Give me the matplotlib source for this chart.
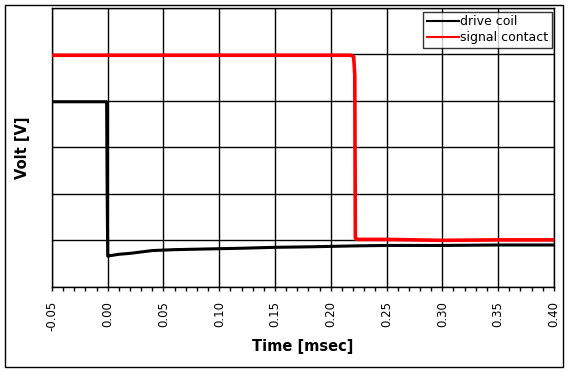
import numpy as np
import matplotlib
matplotlib.use('Agg')
import matplotlib.pyplot as plt
from matplotlib.patches import Rectangle

# Data (time in msec, volts in grid units)
drive_t = [-0.05, -0.001, -0.0005, 0.0, 0.002, 0.01, 0.02, 0.03, 0.04, 0.06, 0.08,
           0.10, 0.12, 0.15, 0.18, 0.20, 0.22, 0.25, 0.30, 0.35, 0.40]
drive_v = [3.98, 3.98, 2.0, 0.66, 0.67, 0.70, 0.72, 0.75, 0.78, 0.80, 0.81,
           0.82, 0.83, 0.85, 0.86, 0.87, 0.88, 0.89, 0.89, 0.90, 0.90]

contact_t = [-0.05, 0.218, 0.2205, 0.2215, 0.222, 0.223, 0.25, 0.30, 0.35, 0.40]
contact_v = [4.98, 4.98, 4.95, 4.55, 1.05, 1.02, 1.02, 1.00, 1.01, 1.01]

xticks = np.arange(-0.05, 0.4001, 0.05)
xlabels = ['%.2f' % x for x in xticks]

fig = plt.figure(figsize=(5.71, 3.73), dpi=100)
ax = fig.add_axes([0.091, 0.231, 0.879, 0.748])

ax.plot(drive_t, drive_v, color='black', lw=2.2, label='drive coil', zorder=3)
ax.plot(contact_t, contact_v, color='red', lw=2.6, label='signal contact', zorder=4)

ax.set_xlim(-0.05, 0.40)
ax.set_ylim(0, 6)
ax.set_xticks(xticks)
ax.set_xticklabels(xlabels, rotation=90, fontsize=8.5)
ax.set_xticks(np.arange(-0.05, 0.4001, 0.01), minor=True)
ax.set_yticks(np.arange(0, 7, 1))
ax.set_yticklabels([])
ax.tick_params(axis='y', length=0)
ax.tick_params(axis='x', which='both', direction='out', length=3, width=1, pad=7)
ax.grid(True, which='major', color='black', lw=1)
for s in ax.spines.values():
    s.set_linewidth(1)

ax.set_xlabel('Time [msec]', fontsize=10.5, fontweight='bold', labelpad=6)
ax.set_ylabel('Volt [V]', fontsize=10.5, fontweight='bold', labelpad=12)

leg = ax.legend(loc='upper right', bbox_to_anchor=(0.997, 0.986), fontsize=9,
                frameon=True, fancybox=False, borderaxespad=0, handlelength=2.6,
                handletextpad=0.1, borderpad=0.3, labelspacing=0.2)
leg.get_frame().set_edgecolor('black')
leg.get_frame().set_linewidth(1)
for ln in leg.get_lines():
    ln.set_linewidth(1.5)

fig.patches.append(Rectangle((5 / 571, 6 / 373), 558 / 571, 362 / 373,
                             transform=fig.transFigure, fill=False,
                             edgecolor='black', lw=1))

fig.savefig('out.png', dpi=100)
